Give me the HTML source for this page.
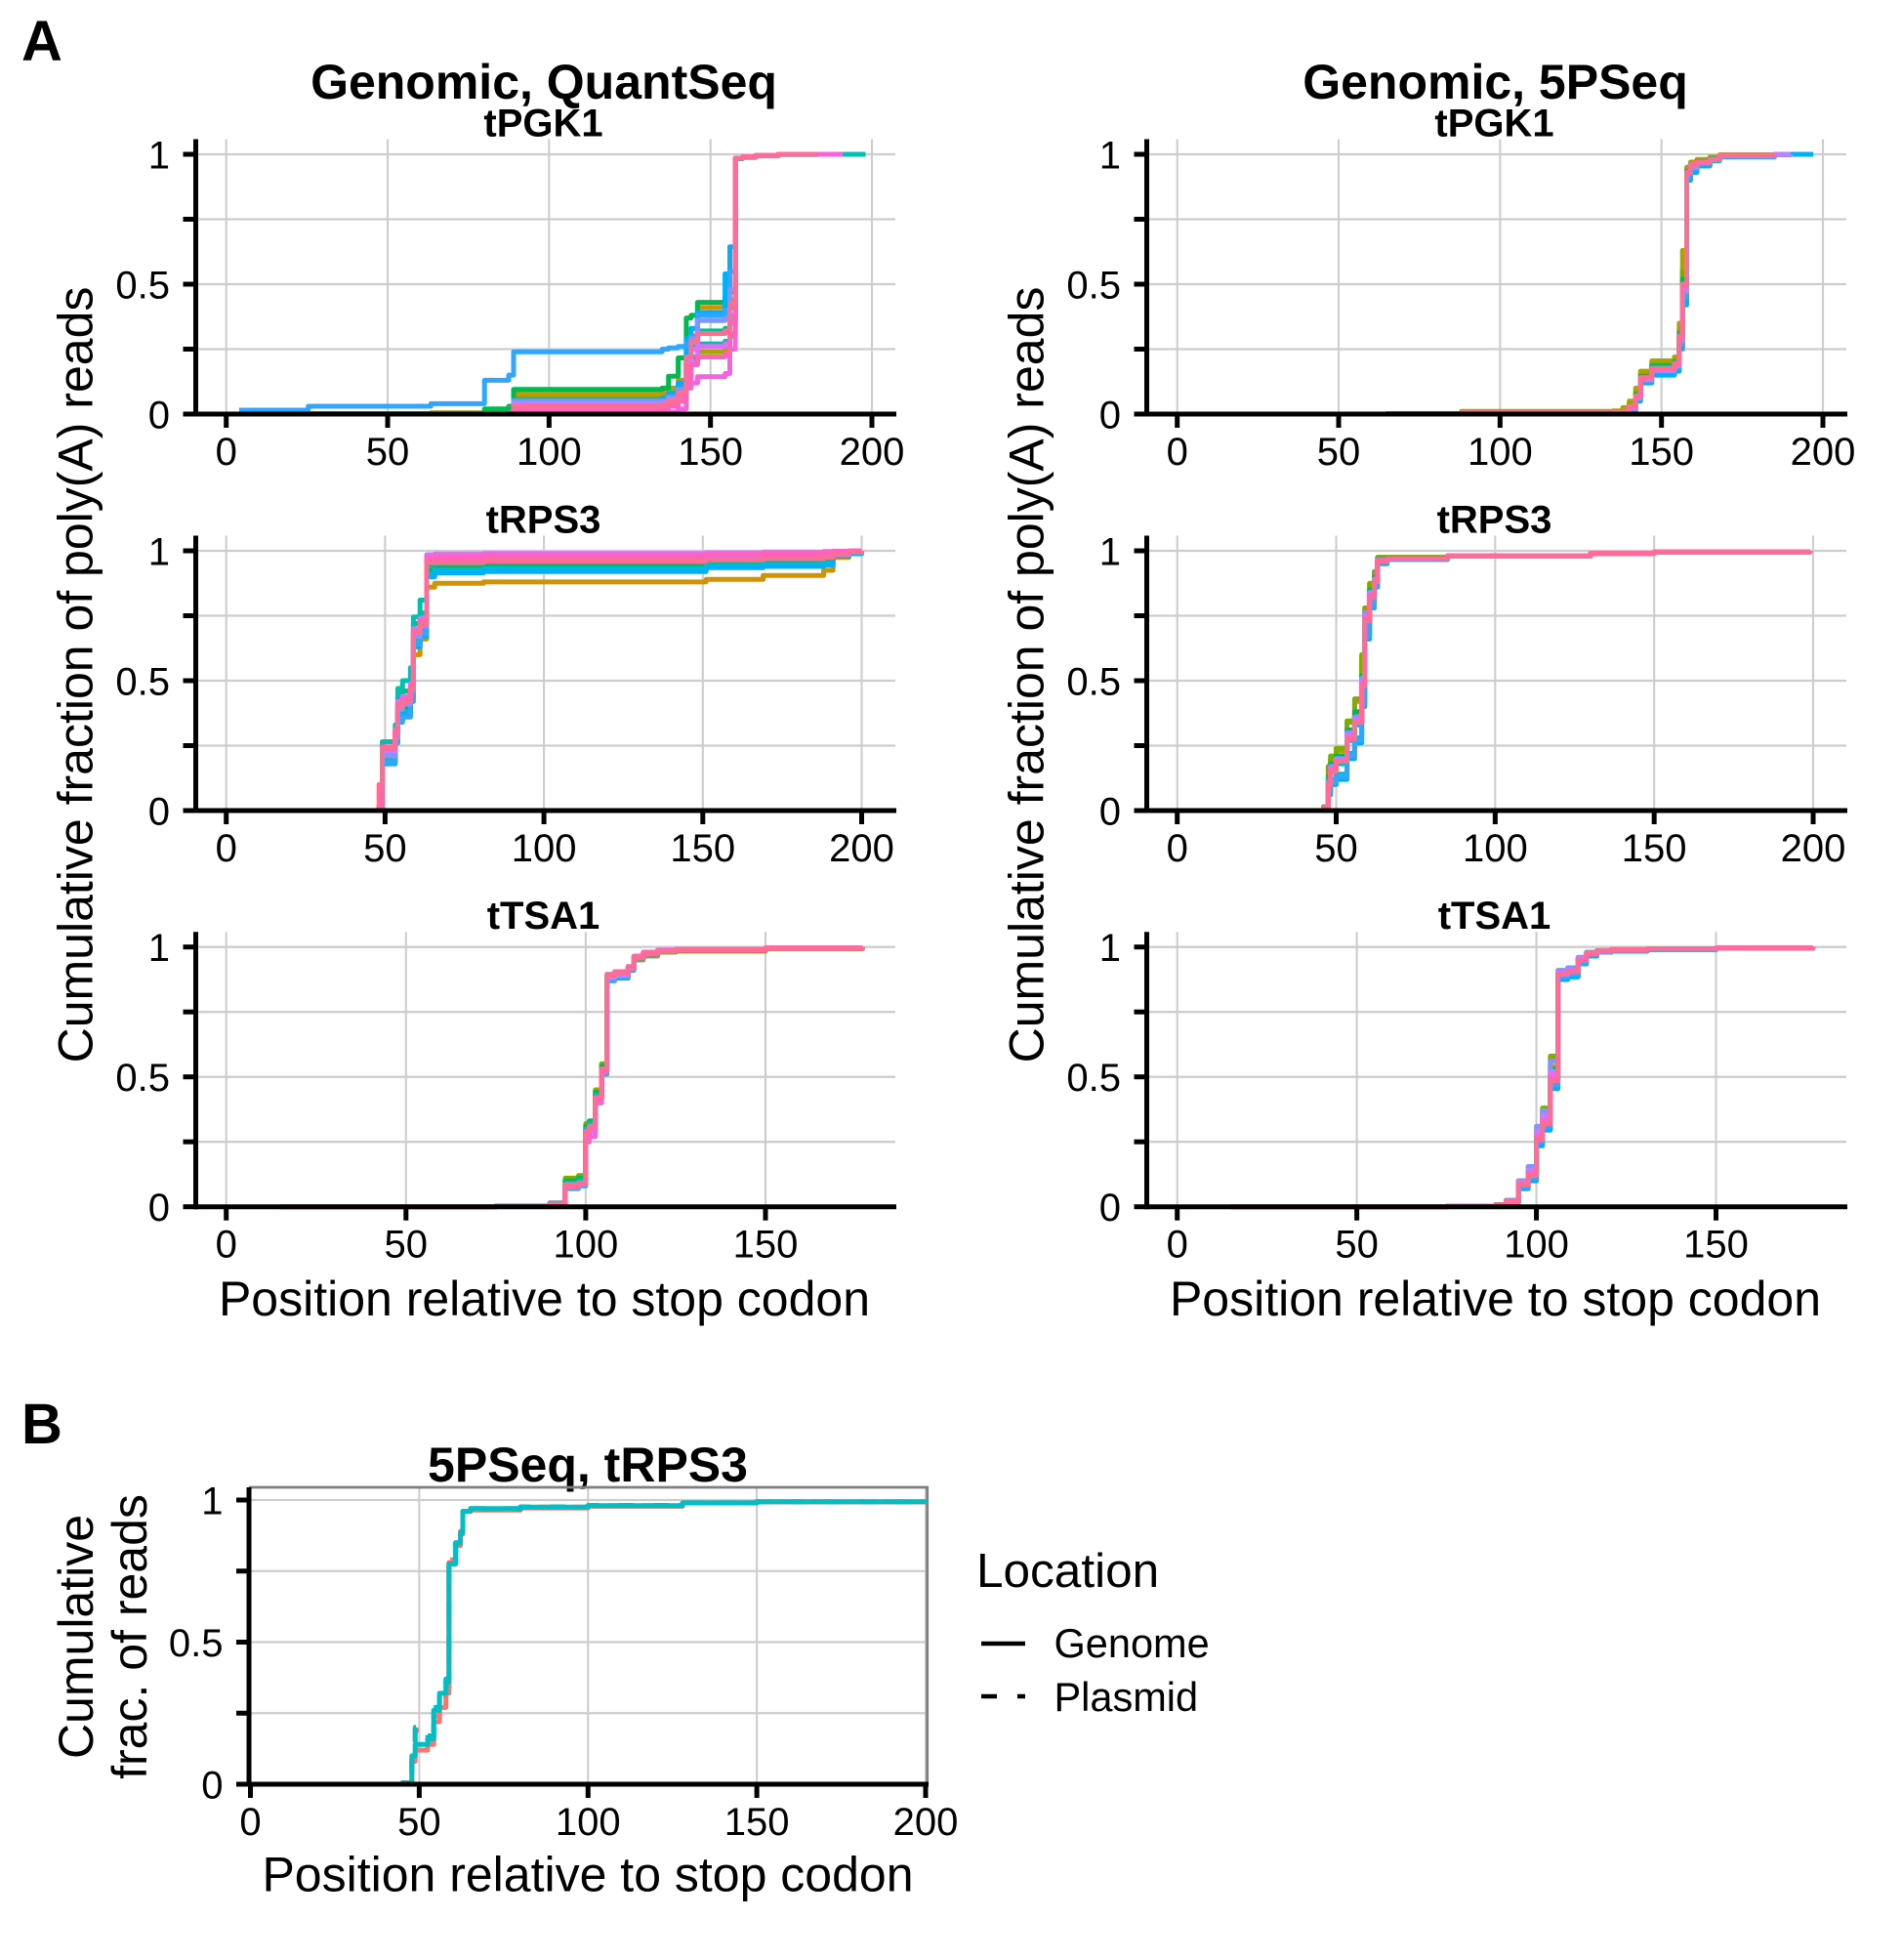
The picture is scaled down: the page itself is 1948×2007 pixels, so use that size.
<!DOCTYPE html>
<html lang="en">
<head>
<meta charset="utf-8">
<title>Cumulative fraction of poly(A) reads</title>
<style>
html,body{margin:0;padding:0;background:#fff;}
svg{display:block;font-family:"Liberation Sans",Arial,sans-serif;}
text{fill:#000;}
.b{font-weight:bold;}
</style>
</head>
<body>
<svg id="figure" xmlns="http://www.w3.org/2000/svg" width="1948" height="2007" viewBox="0 0 1948 2007">
<rect width="1948" height="2007" fill="#fff"/>
<text class="b" x="22" y="62" font-size="58">A</text>
<text class="b" x="22" y="1478" font-size="58">B</text>
<text class="b" x="557" y="101" font-size="50" text-anchor="middle">Genomic, QuantSeq</text>
<text class="b" x="1531.5" y="101" font-size="50" text-anchor="middle">Genomic, 5PSeq</text>
<text x="94.5" y="0" font-size="50" text-anchor="middle" transform="translate(0,691) rotate(-90 94.5 0)">Cumulative fraction of poly(A) reads</text>
<text x="1068.5" y="0" font-size="50" text-anchor="middle" transform="translate(0,691) rotate(-90 1068.5 0)">Cumulative fraction of poly(A) reads</text>
<text x="557.5" y="1347" font-size="50" text-anchor="middle">Position relative to stop codon</text>
<text x="1531.5" y="1347" font-size="50" text-anchor="middle">Position relative to stop codon</text>
<text class="b" x="602" y="1517" font-size="50" text-anchor="middle">5PSeq, tRPS3</text>
<text x="95" y="0" font-size="50" text-anchor="middle" transform="translate(0,1676) rotate(-90 95 0)">Cumulative</text>
<text x="150" y="0" font-size="50" text-anchor="middle" transform="translate(0,1676) rotate(-90 150 0)">frac. of reads</text>
<text x="602" y="1936.5" font-size="50" text-anchor="middle">Position relative to stop codon</text>
<g>
<text x="1000" y="1625" font-size="49.5">Location</text>
<line x1="1005" x2="1050" y1="1683" y2="1683" stroke="#000" stroke-width="4.4"/>
<text x="1079.5" y="1697" font-size="41.5">Genome</text>
<line x1="1005" x2="1050" y1="1737" y2="1737" stroke="#000" stroke-width="4.4" stroke-dasharray="16 21"/>
<text x="1079.5" y="1752" font-size="41.5">Plasmid</text>
</g>
</svg>
<script>
const seriesColors = ["#F8766D","#D39200","#A8A500","#7CAE00","#00BA50","#00BF8C","#00C0AF","#00BCD8","#00B0F6","#30A6FF","#7F96FF","#BB83FF","#E26EF7","#F763DD","#FF62BC","#FF6C95"];
const yTicks = [0,0.25,0.5,0.75,1];
const yTickLabels = ["0","","0.5","","1"];
const xTicksLong = [0,50,100,150,200];
const xTicksShort = [0,50,100,150];

const quantPgk1Positions = [4,25.4,63.4,80,87.5,89,135,137,140,142.5,144,146,154.5,156,157.7,160,164,171,183,191,198];
const quantPgk1Fractions = [
[0,0,.001,.002,.003,.035,.04,.05,.07,.14,.2,.27,.28,.36,.985,.99,.996,1,1,1,1],
[0,.002,.005,.006,.01,.08,.085,.1,.13,.2,.3,.41,.42,.44,.985,.99,.996,1,1,1,null],
[0,.001,.004,.005,.008,.065,.07,.085,.115,.18,.22,.24,.25,.3,.985,.99,.996,1,1,1,null],
[0,.001,.003,.004,.006,.058,.062,.08,.11,.2,.28,.39,.4,.42,.985,.99,.995,1,1,1,null],
[0,0,.001,.02,.03,.095,.1,.146,.216,.37,.38,.43,.455,.47,.985,.99,.995,1,1,1,null],
[0,0,.001,.002,.004,.05,.055,.07,.1,.17,.26,.32,.33,.35,.985,.99,.995,1,1,1,null],
[0,0,.001,.002,.003,.045,.05,.065,.09,.16,.21,.27,.28,.37,.983,.988,.994,.999,1,1,1],
[0,0,.001,.002,.003,.05,.055,.075,.105,.22,.3,.38,.39,.41,.985,.99,.995,1,1,null,null],
[0,0,.001,.002,.003,.055,.06,.08,.12,.29,.33,.39,.54,.644,.985,.99,.995,1,1,null,null],
[.015,.03,.04,.13,.15,.24,.25,.255,.26,.27,.3,.38,.4,.55,.985,.99,.995,1,1,null,null],
[0,0,.001,.002,.003,.05,.05,.065,.095,.2,.29,.36,.37,.48,.985,.99,.995,1,1,null,null],
[0,0,.001,.002,.003,.04,.042,.055,.08,.17,.25,.31,.32,.38,.985,.99,.995,1,1,null,null],
[0,0,0,.001,.002,.025,.028,.04,.06,.13,.2,.26,.27,.35,.985,.99,.995,1,1,null,null],
[0,0,0,0,.001,.005,.006,.008,.02,.1,.12,.144,.156,.25,.985,.99,.996,1,1,1,null],
[0,0,0,.001,.002,.02,.022,.03,.05,.14,.19,.22,.23,.31,.985,.99,.995,1,1,null,null],
[0,0,0,.001,.003,.03,.035,.05,.08,.22,.28,.31,.32,.42,.985,.99,.995,1,1,null,null]
];

const fivePgk1Positions = [0,65,88,135,138,140,142,143.5,147,154,155.5,156.5,157.8,159,161,165,168,185,190,197];
const fivePgk1Fractions = [
[0,0,.003,.005,.008,.025,.065,.135,.17,.19,.29,.48,.925,.955,.97,.98,.995,.999,1,null],
[0,.001,.006,.008,.015,.04,.085,.155,.195,.21,.33,.56,.94,.965,.975,.985,.996,1,1,null],
[0,.002,.01,.012,.025,.05,.1,.165,.205,.22,.35,.63,.95,.97,.98,.99,.998,1,1,null],
[0,.001,.005,.007,.012,.035,.08,.15,.19,.205,.32,.55,.91,.945,.96,.98,.993,.999,1,null],
[0,.001,.004,.006,.01,.03,.075,.145,.185,.2,.31,.52,.935,.96,.972,.983,.995,.999,1,null],
[0,0,.003,.005,.008,.025,.07,.14,.18,.195,.3,.5,.93,.955,.97,.98,.994,.999,1,null],
[0,0,.003,.005,.007,.02,.06,.13,.17,.185,.28,.47,.92,.95,.965,.98,.994,.999,1,null],
[0,0,.002,.004,.006,.015,.055,.125,.16,.175,.26,.44,.91,.94,.96,.978,.992,.998,1,1],
[0,0,.002,.004,.006,.012,.05,.12,.15,.165,.25,.42,.9,.93,.955,.975,.99,.998,1,1],
[0,0,.002,.004,.007,.018,.058,.128,.165,.18,.27,.45,.915,.945,.962,.978,.992,.998,1,null],
[0,0,.003,.005,.008,.022,.062,.132,.168,.185,.28,.47,.925,.95,.968,.98,.994,.999,1,null],
[0,0,.003,.005,.008,.025,.065,.135,.17,.19,.29,.48,.93,.955,.97,.98,.995,.999,1,null],
[0,0,.003,.005,.008,.026,.066,.136,.172,.19,.29,.49,.93,.957,.97,.98,.995,.999,null,null],
[0,0,.004,.006,.009,.028,.068,.138,.173,.193,.295,.49,.93,.958,.97,.98,.995,.999,null,null],
[0,0,.004,.006,.01,.03,.07,.14,.175,.195,.3,.5,.93,.96,.97,.98,.995,.999,null,null],
[0,0,.004,.006,.01,.03,.07,.14,.175,.195,.3,.5,.93,.96,.97,.98,.995,.999,null,null]
];

const quantRps3Positions = [38,48.1,49.1,53.2,54,55.5,58,58.9,61,63.1,65.6,81,151,169,188,191,196,200];
const quantRps3Fractions = [
[0,.01,.23,.3,.4,.42,.47,.68,.72,.95,.955,.96,.965,.97,.975,.985,.995,1],
[0,.005,.2,.28,.37,.38,.44,.6,.66,.86,.875,.88,.89,.905,.925,.975,.99,1],
[0,.008,.22,.29,.39,.41,.46,.66,.7,.93,.94,.945,.95,.955,.96,.98,.99,1],
[0,.008,.21,.28,.38,.4,.45,.65,.69,.92,.935,.94,.95,.955,.96,.98,.99,1],
[0,.006,.2,.27,.36,.39,.44,.64,.68,.925,.935,.94,.945,.95,.96,.98,.99,1],
[0,.01,.24,.31,.44,.46,.52,.72,.76,.94,.95,.955,.96,.965,.97,.985,.995,1],
[0,.012,.265,.33,.47,.5,.55,.745,.81,.96,.965,.97,.975,.98,.985,.99,.995,1],
[0,.006,.19,.27,.37,.38,.44,.65,.69,.91,.925,.93,.94,.945,.95,.98,.99,1],
[0,.004,.18,.26,.35,.37,.42,.63,.67,.9,.915,.92,.935,.94,.945,.98,.99,1],
[0,.005,.185,.265,.34,.36,.42,.64,.68,.955,.96,.965,.97,.975,.98,.985,.995,1],
[0,.008,.21,.28,.39,.41,.46,.67,.71,.965,.97,.975,.98,.985,.99,.995,.998,1],
[0,.01,.23,.3,.42,.44,.49,.7,.74,.985,.988,.99,.992,.995,.997,.998,.999,1],
[0,.01,.235,.305,.415,.435,.485,.695,.735,.98,.985,.988,.99,.993,.996,.998,.999,1],
[0,.01,.24,.3,.41,.43,.48,.69,.73,.975,.98,.985,.988,.99,.995,.997,.999,1],
[0,.02,.245,.31,.405,.425,.475,.69,.725,.97,.975,.98,.985,.99,.993,.997,.999,1],
[0,.1,.24,.31,.4,.42,.47,.685,.72,.955,.955,.96,.965,.97,.975,.985,.995,1]
];

const fiveRps3Positions = [30,46,47.5,48.2,50,53.4,55.8,58,59,60.5,62,63,66,85,130,150,199];
const fiveRps3Fractions = [
[0,.01,.1,.16,.19,.28,.34,.48,.74,.83,.89,.965,.97,.98,.99,.995,1],
[0,.012,.12,.18,.21,.31,.38,.52,.76,.85,.9,.97,.972,.98,.99,.995,1],
[0,.015,.16,.2,.23,.34,.42,.58,.78,.87,.92,.975,.975,.98,.99,.995,1],
[0,.015,.17,.21,.24,.345,.43,.6,.78,.875,.92,.975,.975,.98,.99,.995,1],
[0,.012,.13,.18,.21,.31,.38,.52,.75,.85,.9,.97,.972,.98,.99,.995,1],
[0,.01,.12,.17,.2,.29,.36,.5,.74,.84,.89,.965,.97,.98,.99,.995,1],
[0,.01,.1,.15,.18,.27,.33,.46,.72,.82,.88,.96,.97,.98,.99,.995,1],
[0,.008,.07,.12,.14,.22,.28,.42,.68,.8,.87,.955,.968,.98,.99,.995,1],
[0,.005,.06,.1,.12,.2,.26,.4,.66,.78,.86,.95,.966,.98,.99,.995,1],
[0,.006,.07,.11,.13,.21,.27,.41,.67,.79,.86,.955,.967,.98,.99,.995,1],
[0,.009,.11,.17,.2,.3,.36,.51,.76,.84,.89,.965,.97,.98,.99,.995,1],
[0,.009,.1,.165,.195,.29,.35,.5,.75,.835,.89,.965,.97,.98,.99,.995,1],
[0,.01,.1,.16,.19,.285,.345,.49,.745,.83,.89,.965,.97,.98,.99,.995,1],
[0,.01,.1,.16,.19,.28,.34,.49,.74,.83,.885,.965,.97,.98,.99,.995,1],
[0,.01,.1,.155,.19,.28,.34,.48,.74,.825,.885,.965,.97,.98,.99,.995,1],
[0,.01,.1,.15,.19,.275,.34,.48,.73,.82,.88,.96,.97,.98,.99,.995,1]
];

const quantTsa1Positions = [15,75,90,94.3,98,100,101,102.7,104.4,105.9,108,111.8,113.4,116,120,125,150,177];
const quantTsa1Fractions = [
[0,.001,.01,.09,.1,.3,.32,.43,.54,.88,.89,.915,.955,.97,.98,.985,.995,1],
[0,.002,.012,.1,.105,.3,.32,.44,.54,.875,.885,.91,.955,.97,.98,.985,.994,1],
[0,.003,.014,.105,.115,.31,.33,.45,.55,.875,.885,.91,.95,.965,.98,.985,.993,1],
[0,.002,.015,.11,.12,.32,.33,.45,.55,.88,.89,.915,.955,.97,.98,.985,.994,1],
[0,.002,.012,.1,.11,.31,.33,.44,.54,.88,.89,.92,.96,.975,.985,.99,.995,1],
[0,.002,.012,.09,.1,.3,.32,.43,.53,.88,.89,.92,.96,.975,.985,.99,.995,1],
[0,.003,.014,.09,.1,.3,.32,.43,.53,.885,.895,.92,.96,.975,.985,.99,.995,1],
[0,.001,.01,.08,.09,.29,.31,.42,.52,.875,.885,.915,.955,.97,.985,.99,.995,1],
[0,.001,.009,.075,.085,.27,.3,.41,.52,.87,.88,.91,.955,.97,.985,.99,.995,1],
[0,.001,.008,.07,.08,.26,.29,.4,.51,.875,.885,.915,.955,.97,.985,.99,.995,1],
[0,.001,.008,.075,.085,.27,.3,.41,.52,.88,.89,.915,.96,.975,.985,.99,.995,1],
[0,.001,.009,.08,.09,.28,.3,.42,.53,.885,.895,.92,.96,.975,.985,.99,.996,1],
[0,.001,.01,.085,.09,.27,.29,.41,.53,.89,.9,.92,.96,.975,.985,.99,.996,1],
[0,.001,.01,.08,.09,.25,.27,.4,.52,.89,.9,.925,.965,.98,.988,.99,.996,1],
[0,.001,.01,.08,.09,.28,.31,.42,.53,.895,.905,.925,.96,.975,.985,.99,.996,1],
[0,.001,.01,.08,.09,.29,.31,.42,.53,.89,.9,.92,.96,.975,.985,.99,.996,1]
];

const fiveTsa1Positions = [15,75,88.6,91.6,95,97.7,100,101.7,103.9,106,108.7,111.6,113.9,116.8,120.8,130.9,150,177];
const fiveTsa1Fractions = [
[0,.001,.006,.02,.09,.13,.27,.33,.5,.885,.895,.94,.97,.98,.985,.99,.996,1],
[0,.002,.008,.025,.1,.135,.28,.36,.54,.88,.89,.94,.97,.98,.985,.99,.995,1],
[0,.002,.008,.025,.1,.14,.29,.37,.57,.885,.895,.945,.972,.98,.985,.99,.995,1],
[0,.002,.007,.025,.1,.14,.29,.38,.58,.89,.9,.955,.975,.985,.99,.993,.996,1],
[0,.002,.007,.02,.09,.13,.28,.35,.53,.885,.895,.945,.97,.98,.985,.99,.995,1],
[0,.001,.006,.02,.09,.13,.27,.34,.5,.885,.895,.945,.97,.98,.985,.99,.995,1],
[0,.001,.006,.02,.085,.12,.26,.32,.49,.88,.89,.94,.97,.98,.985,.99,.995,1],
[0,.001,.005,.015,.07,.105,.24,.3,.46,.875,.885,.935,.965,.98,.985,.99,.995,1],
[0,.001,.005,.015,.07,.1,.235,.295,.455,.875,.885,.935,.965,.98,.985,.99,.995,1],
[0,.001,.005,.015,.075,.11,.25,.31,.47,.885,.895,.94,.97,.98,.987,.992,.996,1],
[0,.001,.006,.025,.1,.155,.31,.37,.56,.91,.92,.96,.98,.985,.99,.993,.996,1],
[0,.001,.006,.02,.095,.14,.29,.35,.52,.9,.91,.955,.975,.985,.99,.993,.996,1],
[0,.001,.006,.02,.09,.13,.28,.34,.51,.9,.91,.955,.975,.985,.988,.993,.996,1],
[0,.001,.006,.02,.09,.13,.27,.33,.5,.895,.905,.95,.975,.985,.988,.993,.996,1],
[0,.001,.006,.02,.085,.125,.26,.32,.49,.895,.905,.95,.975,.985,.988,.993,.996,1],
[0,.001,.006,.02,.085,.12,.26,.32,.485,.895,.905,.95,.975,.987,.99,.993,.996,1]
];

const locationColors = ["#F8766D","#F8766D","#00BFC4","#00BFC4"];
const locationDashed = [false,true,false,true];
const locationPositions = [30,45,47.8,48.8,52.5,54.3,56,57.9,58.8,60.8,62.2,62.9,65.2,80,100,128,150,200];
const salmonGenomeFractions = [0,.004,.08,.12,.15,.22,.27,.32,.78,.84,.88,.96,.965,.972,.978,.99,.993,1];
const salmonPlasmidFractions = [0,.005,.09,.19,.14,.24,.3,.34,.79,.86,.89,.96,.97,.975,.98,.99,.994,1];
const tealGenomeFractions = [0,.005,.1,.14,.16,.26,.32,.36,.775,.85,.885,.96,.97,.975,.98,.99,.994,1];
const tealPlasmidFractions = [0,.006,.11,.2,.17,.27,.34,.37,.78,.85,.885,.96,.968,.976,.981,.99,.994,1];
const locationFractions = [salmonGenomeFractions,salmonPlasmidFractions,tealGenomeFractions,tealPlasmidFractions];

const NS = "http://www.w3.org/2000/svg";
const figure = document.getElementById("figure");

function make(parent, tag, attrs) {
  const node = document.createElementNS(NS, tag);
  for (const k in attrs) node.setAttribute(k, attrs[k]);
  parent.appendChild(node);
  return node;
}

function linearScale(d0, d1, r0, r1) {
  return function (v) { return r0 + (v - d0) * (r1 - r0) / (d1 - d0); };
}

function stepPath(positions, values, sx, sy) {
  let d = "";
  let last = null;
  for (let i = 0; i < positions.length; i++) {
    const v = values[i];
    if (v === null || v === undefined) break;
    const px = sx(positions[i]).toFixed(1);
    const py = sy(v).toFixed(1);
    if (last === null) d += "M" + px + " " + py;
    else d += "H" + px + "V" + py;
    last = py;
  }
  return d;
}

function drawFrame(g, slug, box, sx, sy, xTicks) {
  yTicks.forEach(function (t) {
    const grid = make(g, "line", {x1: box.left, x2: box.gridRight, y1: sy(t), y2: sy(t), stroke: "#cdcdcd", "stroke-width": 2.3});
    
    
  });
  xTicks.forEach(function (t) {
    const grid = make(g, "line", {x1: sx(t), x2: sx(t), y1: box.top, y2: sy(0), stroke: "#cdcdcd", "stroke-width": 2.1});
    
    
  });
}

function drawAxes(g, slug, box, sx, sy, xTicks) {
  const yAxis = make(g, "line", {x1: box.left, x2: box.left, y1: box.top, y2: sy(0) + 2.5, stroke: "#000", "stroke-width": 5});
  
  
  const xAxis = make(g, "line", {x1: box.left, x2: box.right, y1: sy(0), y2: sy(0), stroke: "#000", "stroke-width": 5});
  
  
  yTicks.forEach(function (t, i) {
    const tick = make(g, "line", {x1: box.left - 13, x2: box.left, y1: sy(t), y2: sy(t), stroke: "#000", "stroke-width": 5});
    
    
    if (yTickLabels[i]) {
      const label = make(g, "text", {x: box.left - 26.5, y: sy(t) + 14.5, "font-size": 40, "text-anchor": "end"});
      label.textContent = yTickLabels[i];
      
      
    }
  });
  xTicks.forEach(function (t) {
    const tick = make(g, "line", {x1: sx(t), x2: sx(t), y1: sy(0), y2: sy(0) + 14, stroke: "#000", "stroke-width": 5});
    
    
    const label = make(g, "text", {x: sx(t), y: sy(0) + 52, "font-size": 40, "text-anchor": "middle"});
    label.textContent = String(t);
    
    
  });
}

function drawPanel(slug, title, box, xDomainEnd, xEndPixel, xTicks, positions, fractions) {
  const g = make(figure, "g", {});
  
  
  const sx = linearScale(0, xDomainEnd, box.zeroX, xEndPixel);
  const sy = linearScale(0, 1, box.zeroY, box.oneY);
  drawFrame(g, slug, box, sx, sy, xTicks);
  fractions.forEach(function (values, i) {
    const line = make(g, "path", {d: stepPath(positions, values, sx, sy), fill: "none", stroke: seriesColors[i % seriesColors.length], "stroke-width": 5, "stroke-linejoin": "round"});
    
    
  });
  drawAxes(g, slug, box, sx, sy, xTicks);
  const heading = make(g, "text", {x: box.titleX, y: box.oneY - 18.5, "font-size": 40, "font-weight": "bold", "text-anchor": "middle"});
  heading.textContent = title;
  
  
}

function box(column, oneY) {
  const dx = column * 974;
  return {left: 200.5 + dx, right: 918 + dx, gridRight: 917 + dx, top: oneY - 15.5, zeroX: 231.7 + dx, oneY: oneY, zeroY: oneY + 266, titleX: 556.5 + dx};
}

drawPanel("quantseq-tpgk1", "tPGK1", box(0, 158), 200, 893, xTicksLong, quantPgk1Positions, quantPgk1Fractions);
drawPanel("5pseq-tpgk1", "tPGK1", box(1, 158), 200, 1867, xTicksLong, fivePgk1Positions, fivePgk1Fractions);
drawPanel("quantseq-trps3", "tRPS3", box(0, 564), 200, 882.5, xTicksLong, quantRps3Positions, quantRps3Fractions);
drawPanel("5pseq-trps3", "tRPS3", box(1, 564), 200, 1857, xTicksLong, fiveRps3Positions, fiveRps3Fractions);
drawPanel("quantseq-ttsa1", "tTSA1", box(0, 969.7), 150, 784, xTicksShort, quantTsa1Positions, quantTsa1Fractions);
drawPanel("5pseq-ttsa1", "tTSA1", box(1, 969.7), 150, 1757.5, xTicksShort, fiveTsa1Positions, fiveTsa1Fractions);

(function drawLocationPanel() {
  const g = make(figure, "g", {});
  
  
  const b = {left: 255, right: 951, gridRight: 949, top: 1523};
  const sx = linearScale(0, 200, 256.5, 948);
  const sy = linearScale(0, 1, 1827, 1536);
  drawFrame(g, "panel-b", b, sx, sy, xTicksLong);
  const border = make(g, "path", {d: "M255 1523H949.7V1827", fill: "none", stroke: "#7f7f7f", "stroke-width": 2.8});
  
  
  locationFractions.forEach(function (values, i) {
    const attrs = {d: stepPath(locationPositions, values, sx, sy), fill: "none", stroke: locationColors[i], "stroke-width": 5, "stroke-linejoin": "round"};
    if (locationDashed[i]) attrs["stroke-dasharray"] = "16 20";
    const line = make(g, "path", attrs);
    
    
  });
  drawAxes(g, "panel-b", b, sx, sy, xTicksLong);
})();
</script>
</body>
</html>
